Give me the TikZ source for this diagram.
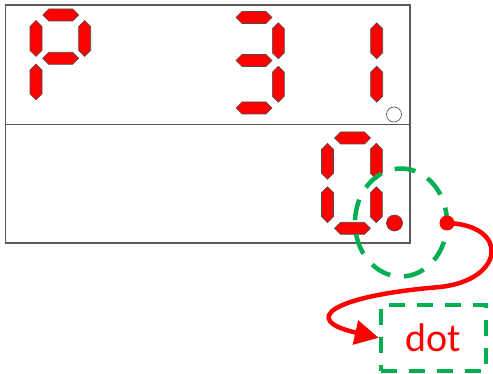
\documentclass[tikz,border=0pt]{standalone}
\usepackage{fontspec}
\newfontfamily\labelfont{Carlito}
\usetikzlibrary{arrows.meta,shapes.geometric}
\definecolor{segred}{HTML}{FF0000}
\definecolor{gr}{HTML}{00B050}
\definecolor{frame}{HTML}{595959}
\tikzset{
  seg/.style={fill=segred,draw=black!70,line width=0.6pt,line join=miter},
  panel/.style={draw=frame,line width=1.2pt},
  hint/.style={draw=gr,line width=4.5pt,dash pattern=on 21pt off 14pt,dash phase=6pt},
  boxhint/.style={draw=gr,line width=4pt,dash pattern=on 16pt off 12pt},
  curve/.style={draw=segred,line width=4.5pt,-{Triangle[length=24pt,width=24pt]}},
}
\newcommand\hseg[2]{\draw[seg,shift={(#1,#2)}] (-18,0) -- (-12,-6) -- (12,-6) -- (18,0) -- (12,6) -- (-12,6) -- cycle;}
\newcommand\vseg[2]{\draw[seg,shift={(#1,#2)}] (0,-18) -- (6,-12) -- (6,12) -- (0,18) -- (-6,12) -- (-6,-12) -- cycle;}
\begin{document}
\begin{tikzpicture}[x=1pt,y=-1pt]
\useasboundingbox (0,0) rectangle (493,374);
% panels
\draw[panel] (5.3,5) rectangle (410,124.3);
\draw[panel] (5.3,124.3) rectangle (410,243);
% P
\hseg{60.7}{15}
\vseg{36}{38.5}
\vseg{84.7}{38.5}
\hseg{60.7}{58.3}
\vseg{36}{82}
% 3
\hseg{254}{17.5}
\vseg{278.3}{40.8}
\hseg{254}{60.5}
\vseg{278.3}{84.2}
\hseg{254}{108}
% 1
\vseg{376.7}{40.8}
\vseg{376.7}{84.2}
\node[circle,draw=black!70,line width=0.6pt,fill=white,minimum size=15pt,inner sep=0pt] (opendot) at (394,114.5) {};
% 0
\hseg{352.5}{138}
\vseg{327.5}{161.3}
\vseg{376.3}{161.3}
\vseg{327.5}{204.7}
\vseg{376.3}{204.7}
\hseg{352.5}{228.3}
\node[circle,draw=black!70,line width=0.6pt,fill=segred,minimum size=16pt,inner sep=0pt] (reddot) at (394.5,223) {};
% highlight ring
\node[ellipse,hint,minimum width=92pt,minimum height=108pt,inner sep=0pt] (ring) at (401,222.5) {};
% label box
\node[boxhint,minimum width=105pt,minimum height=66pt,inner sep=0pt,text=segred,font=\labelfont\fontsize{40}{40}\selectfont] (dotbox) at (433.3,337.8) {dot};
% source point
\node[circle,fill=segred,minimum size=15pt,inner sep=0pt] (src) at (447,223) {};
\draw[curve] (src.center) .. controls (510,225) and (505,280) .. (440,287) .. controls (330,296) and (300,320) .. (dotbox.west);
\end{tikzpicture}
\end{document}
